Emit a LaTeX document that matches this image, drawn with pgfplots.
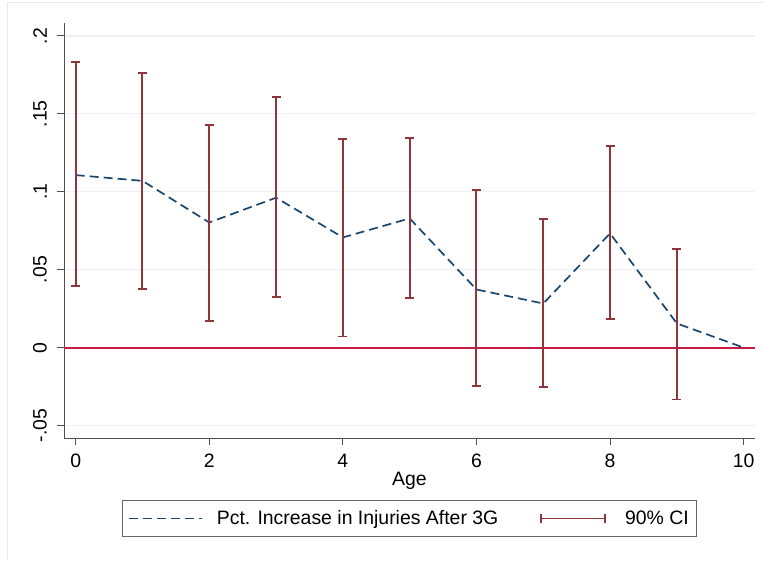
\documentclass[border=0pt]{standalone}
\usepackage{fontspec}
\setmainfont{Liberation Sans}
\usepackage{pgfplots}
\pgfplotsset{compat=1.18}
\usepackage{pgfplotstable}
\definecolor{stnavy}{RGB}{26,71,111}
\definecolor{stmaroon}{RGB}{144,53,59}
\definecolor{stred}{RGB}{200,28,70}
\definecolor{stgrid}{RGB}{234,242,243}
\definecolor{staxis}{RGB}{80,80,80}
\pgfplotstableread{
x y lo hi
0 0.1107 0.0394 0.1835
1 0.1070 0.0377 0.1760
2 0.0803 0.0170 0.1426
3 0.0962 0.0326 0.1608
4 0.0707 0.0071 0.1338
5 0.0829 0.0319 0.1343
6 0.0373 -0.0246 0.1011
7 0.0283 -0.0252 0.0823
8 0.0733 0.0182 0.1293
9 0.0155 -0.0333 0.0632
}\citable
\pgfplotstableread{
x y
0 0.1107
1 0.1070
2 0.0803
3 0.0962
4 0.0707
5 0.0829
6 0.0373
7 0.0283
8 0.0733
9 0.0155
10 0.0000
}\pointtable
\newcommand{\chartfont}{\fontsize{19.5}{23}\selectfont}
\pgfplotsset{
  dashleg/.style={legend image code/.code={
    \draw[stnavy, line width=1.7bp, dash pattern=on 9bp off 5bp] (0bp,0bp) -- (73bp,0bp);}},
  cileg/.style={legend image code/.code={
    \draw[stmaroon, line width=1.8bp] (0bp,0bp) -- (64bp,0bp);
    \draw[stmaroon, line width=1.8bp] (0bp,-4.5bp) -- (0bp,4.5bp);
    \draw[stmaroon, line width=1.8bp] (64bp,-4.5bp) -- (64bp,4.5bp);}},
}
\begin{document}
\begin{tikzpicture}
\path[use as bounding box, fill=white] (0,0) rectangle (764bp,561bp);
\draw[color=black!8, line width=1bp] (7bp,0) -- (7bp,558bp) -- (764bp,558bp);
\begin{axis}[
  at={(64bp,123bp)}, anchor=south west,
  scale only axis, width=691bp, height=415bp,
  xmin=-0.175, xmax=10.17, ymin=-0.058, ymax=0.2083,
  axis x line*=bottom, axis y line*=left,
  axis line style={staxis, line width=0.9bp},
  tick style={staxis, line width=0.9bp},
  tick align=outside, major tick length=7bp,
  xtick={0,2,4,6,8,10},
  ytick={-0.05,0,0.05,0.1,0.15,0.2},
  yticklabels={-.05,0,.05,.1,.15,.2},
  /pgf/number format/assume math mode=true,
  ymajorgrids, grid style={stgrid, line width=1.3bp},
  tick label style={font=\chartfont, text=black},
  xticklabel style={inner sep=0pt, anchor=north, yshift=-9bp},
  yticklabel style={rotate=90, inner sep=0pt, anchor=south, yshift=10bp},
  xlabel={Age},
  xlabel style={font=\chartfont, at={(0.5,-0.1133)}, anchor=base},
  legend style={font=\chartfont, at={(0.5,-0.194)}, anchor=center,
    legend columns=2, draw=black!60, line width=0.8bp,
    inner xsep=6bp, inner ysep=8bp,
    /tikz/column 1/.style={column sep=12bp},
    /tikz/column 2/.style={column sep=40bp},
    /tikz/column 3/.style={column sep=17bp}},
  legend cell align=left,
  clip=false,
]
\addplot[stred, line width=1.8bp, forget plot] coordinates {(-0.175,0) (10.17,0)};
\addplot[stnavy, line width=1.7bp, dash pattern=on 9bp off 5bp, dashleg]
  table[x=x, y=y] {\pointtable};
\addlegendentry{Pct. Increase in Injuries After 3G}
\addplot[draw=none, mark=none, cileg,
  error bars/.cd, y dir=both, y explicit,
  error bar style={stmaroon, line width=2bp},
  error mark options={stmaroon, line width=1.8bp, mark size=4.5bp, rotate=90},
  ]
  table[x=x, y=lo, y error plus expr=\thisrow{hi}-\thisrow{lo}, y error minus expr=0] {\citable};
\addlegendentry{90\% CI}
\end{axis}
\end{tikzpicture}
\end{document}
